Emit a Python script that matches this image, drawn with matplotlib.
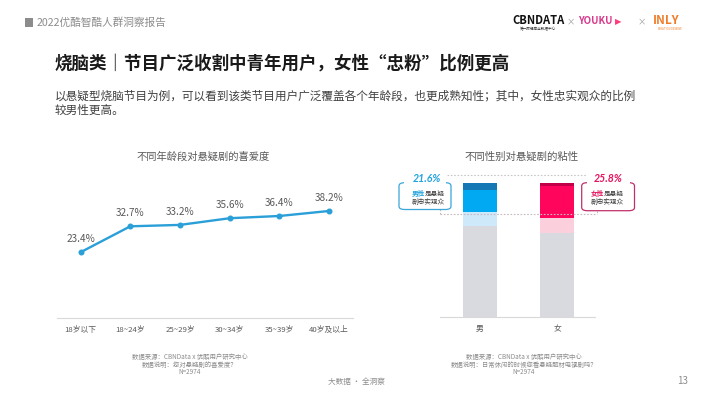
import matplotlib
matplotlib.use('Agg')
import matplotlib.pyplot as plt
from matplotlib.patches import FancyBboxPatch, Rectangle
from matplotlib.lines import Line2D

plt.rcParams['font.family'] = ['Noto Sans CJK SC', 'DejaVu Sans']

W, H = 710, 399

# ---------------- data ----------------
age_groups = ['18岁以下', '18~24岁', '25~29岁', '30~34岁', '35~39岁', '40岁及以上']
age_liking = [23.4, 32.7, 33.2, 35.6, 36.4, 38.2]

genders = ['男', '女']
seg_rest = [67.7, 63.0]    # grey base
seg_some = [10.7, 11.2]    # light tint
seg_loyal = [16.6, 23.8]   # bright
seg_core = [5.0, 2.0]      # dark top
loyal_total = [21.6, 25.8]

fig = plt.figure(figsize=(7.1, 3.99), dpi=100)
fig.patch.set_facecolor('white')


def fx(x):
    return x / W


def fy(y):
    return 1 - y / H


GREY_TXT = '#595959'

# ---------------- header ----------------
fig.add_artist(Rectangle((fx(25), fy(27)), 8 / W, 9 / H, transform=fig.transFigure,
                         facecolor='#8c8c8c', edgecolor='none'))
fig.text(fx(37), fy(22.5), '2022优酷智酷人群洞察报告', fontsize=7.7, color='#8c8c8c',
         ha='left', va='center')

fig.text(fx(512.7), fy(20), 'CBNDATA', fontsize=8, fontweight='bold', color='#111111',
         ha='left', va='center')
fig.text(fx(538), fy(29), '第一财经商业数据中心', fontsize=2.6, color='#333333',
         ha='center', va='center')
fig.text(fx(571), fy(22), '×', fontsize=6, color='#999999', ha='center', va='center')
fig.text(fx(578), fy(21.5), 'YOUKU', fontsize=7, fontweight='bold', color='#d93a8c',
         ha='left', va='center')
fig.text(fx(618.5), fy(21.5), '▶', fontsize=6, color='#ff3a7a', ha='center', va='center',
         family=['DejaVu Sans'])
fig.text(fx(642), fy(22), '×', fontsize=6, color='#999999', ha='center', va='center')
fig.text(fx(653), fy(20.5), 'INLY', fontsize=8.5, fontweight='bold', color='#f07c28',
         ha='left', va='center')
fig.text(fx(670), fy(29), 'WHAT YOU DESERVE', fontsize=1.8, color='#f07c28',
         ha='center', va='center')

# ---------------- title & subtitle ----------------
fig.text(fx(55), fy(63.5), '烧脑类｜节目广泛收割中青年用户，女性“忠粉”比例更高',
         fontsize=12.6, fontweight='bold', color='#1a1a1a', ha='left', va='center')
fig.text(fx(55), fy(95.5),
         '以悬疑型烧脑节目为例，可以看到该类节目用户广泛覆盖各个年龄段，也更成熟知性；其中，女性忠实观众的比例',
         fontsize=8.4, color='#404040', ha='left', va='center')
fig.text(fx(55), fy(110.5), '较男性更高。', fontsize=8.4, color='#404040',
         ha='left', va='center')

# ---------------- line chart ----------------
ax1 = fig.add_axes([fx(56.7), fy(317.5), (353 - 56.7) / W, (317.5 - 192) / H])
xs = list(range(len(age_groups)))
ax1.plot(xs, age_liking, color='#2a9fd8', lw=1.7, marker='o', ms=3.3, zorder=3,
         clip_on=False)
for i, v in enumerate(age_liking):
    ax1.annotate(f'{v:.1f}%', (i, v), xytext=(0, 9.6), textcoords='offset points',
                 ha='center', va='center', fontsize=7.2, color=GREY_TXT)
ax1.set_xlim(-0.48, len(age_groups) - 1 + 0.48)
ax1.set_ylim(0, 45)
for s in ['top', 'left', 'right']:
    ax1.spines[s].set_visible(False)
ax1.spines['bottom'].set_color('#d9d9d9')
ax1.spines['bottom'].set_linewidth(0.8)
ax1.set_yticks([])
ax1.set_xticks(xs)
ax1.set_xticklabels(age_groups)
ax1.tick_params(axis='x', length=0, pad=6, labelsize=5.6, labelcolor=GREY_TXT)
ax1.patch.set_alpha(0)

fig.text(fx(203), fy(157), '不同年龄段对悬疑剧的喜爱度', ha='center', va='center',
         fontsize=7.4, color=GREY_TXT)

# ---------------- stacked bar chart ----------------
ax2 = fig.add_axes([fx(440), fy(317), 155 / W, 134 / H])
bar_colors = [
    ['#d9dae0', '#cde9fa', '#00a9f2', '#1578b4'],
    ['#d9dae0', '#fccfdd', '#ff055b', '#c2004a'],
]
bw = 0.44
for i in range(len(genders)):
    segs = [seg_rest[i], seg_some[i], seg_loyal[i], seg_core[i]]
    bottom = 0
    for val, col in zip(segs, bar_colors[i]):
        ax2.bar(i, val, bottom=bottom, width=bw, color=col, edgecolor='none', zorder=2)
        bottom += val
ax2.set_xlim(-0.514, 1.49)
ax2.set_ylim(0, 100)
for s in ['top', 'left', 'right']:
    ax2.spines[s].set_visible(False)
ax2.spines['bottom'].set_color('#d9d9d9')
ax2.spines['bottom'].set_linewidth(0.8)
ax2.set_yticks([])
ax2.set_xticks(range(len(genders)))
ax2.set_xticklabels(genders)
ax2.tick_params(axis='x', length=0, pad=6, labelsize=5.6, labelcolor=GREY_TXT)
ax2.patch.set_alpha(0)

fig.text(fx(521.7), fy(156.5), '不同性别对悬疑剧的粘性', ha='center', va='center',
         fontsize=7.5, color=GREY_TXT)

# dashed guide lines
def fline(x0, y0, x1, y1, color, lw=0.8):
    fig.add_artist(Line2D([fx(x0), fx(x1)], [fy(y0), fy(y1)], transform=fig.transFigure,
                          color=color, lw=lw, linestyle=(0, (1.5, 1.5))))

fline(446.7, 174.7, 586.7, 174.7, '#c8c8c8')
fline(440, 214.3, 596.7, 214.3, '#c9b9c1')
fline(440, 209, 440, 214.3, '#c9b9c1')
fline(596.7, 210.7, 596.7, 214.3, '#c9b9c1')

# callouts
def callout(x0, x1, y0, y1, edge, pct_col, pct, word, pct_x, txt_x):
    box = FancyBboxPatch((fx(x0), fy(y1)), (x1 - x0) / W, (y1 - y0) / H,
                         boxstyle='round,pad=0,rounding_size=0.008',
                         transform=fig.transFigure, facecolor='white',
                         edgecolor=edge, linewidth=0.9, zorder=5)
    fig.add_artist(box)
    fig.add_artist(Rectangle((fx(x0 + 5), fy(y0 + 2.5)), (x1 - x0 - 10) / W, 5 / H,
                             transform=fig.transFigure, facecolor='white',
                             edgecolor='none', zorder=6))
    fig.text(fx(pct_x), fy(178.3), pct, ha='center', va='center', fontsize=7.6,
             fontweight='bold', style='italic', color=pct_col,
             family=['Lato', 'DejaVu Sans'], zorder=7)
    cw = 6.6
    split = txt_x - 0.5 * cw
    fig.text(fx(split), fy(193.5), word, ha='right', va='center', fontsize=4.8,
             fontweight='bold', color=pct_col, zorder=7)
    fig.text(fx(split), fy(193.5), '是悬疑', ha='left', va='center', fontsize=4.8,
             color='#404040', zorder=7)
    fig.text(fx(txt_x), fy(202.3), '剧忠实观众', ha='center', va='center', fontsize=4.8,
             color='#404040', zorder=7)

callout(399, 451, 182.7, 209.5, '#3aa6d8', '#22a3de', f'{loyal_total[0]:.1f}%', '男性',
        427, 428)
callout(581.7, 634.5, 182.7, 210.7, '#c0306c', '#e6125e', f'{loyal_total[1]:.1f}%', '女性',
        608.3, 607)

# ---------------- footnotes ----------------
fn_kw = dict(ha='center', va='center', fontsize=4.6, color='#8c8c8c')
fig.text(fx(190), fy(357), '数据来源：CBNData x 优酷用户研究中心', **fn_kw)
fig.text(fx(190), fy(364.5), '数据说明：您对悬疑剧的喜爱度？', **fn_kw)
fig.text(fx(190), fy(372), 'N=2974', **fn_kw)
fig.text(fx(524), fy(357), '数据来源：CBNData x 优酷用户研究中心', **fn_kw)
fig.text(fx(524), fy(364.5), '数据说明：日常休闲的时候您看悬疑题材电视剧吗？', **fn_kw)
fig.text(fx(524), fy(372), 'N=2974', **fn_kw)

fig.text(fx(356), fy(382), '大数据 · 全洞察', ha='center', va='center', fontsize=5.5,
         color='#8c8c8c')
fig.text(fx(683), fy(381), '13', ha='center', va='center', fontsize=7, color='#8c8c8c')

fig.savefig('out.png', dpi=100, facecolor='white')
